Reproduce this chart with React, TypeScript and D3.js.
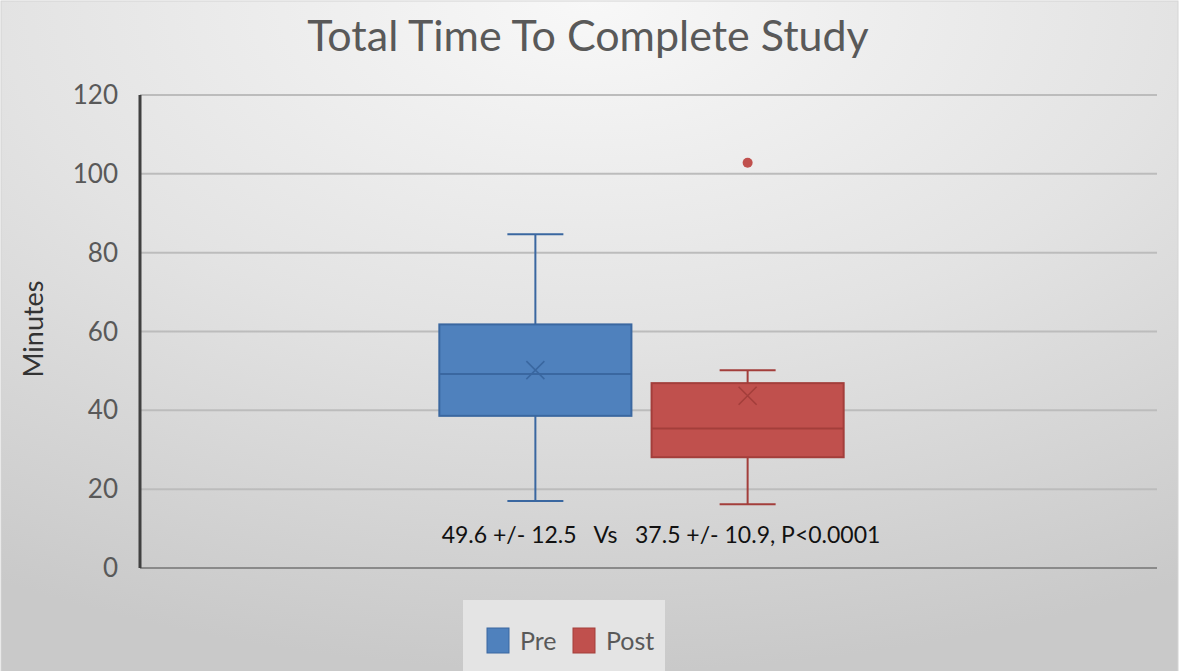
import React from "react";
import * as d3 from "d3";

const title = "Total Time To Complete Study";
const yLabel = "Minutes";
const yTicks = [0, 20, 40, 60, 80, 100, 120];
const category = ["Study"];
const seriesNames = ["Pre", "Post"];
const seriesColors = ["#4F81BD", "#C0504D"];
const seriesStroke = ["#3A67A0", "#A33E3B"];
const mins = [17, 16.2];
const q1s = [38.6, 28.1];
const medians = [49.2, 35.4];
const q3s = [61.8, 46.9];
const maxs = [84.7, 50.2];
const means = [50.2, 43.7];
const outliers: number[][] = [[], [102.8]];
const annotation = "49.6 +/- 12.5   Vs   37.5 +/- 10.9, P<0.0001";

const W = 1181;
const H = 671;
const FONT = "Lato, 'Open Sans', sans-serif";

export default function App() {
  const y = d3.scaleLinear().domain([0, 120]).range([568, 95]);
  const plotLeft = 140;
  const plotRight = 1157;
  const xCat = d3.scaleBand<string>().domain(category).range([128, 1155]).paddingOuter(0.77);
  const xSer = d3
    .scaleBand<string>()
    .domain(seriesNames)
    .range([0, xCat.bandwidth()])
    .paddingInner(0.095);
  const bw = xSer.bandwidth();
  const capW = 56;
  const xm = 9;

  return (
    <svg
      width={W}
      height={H}
      style={{ position: "fixed", left: 0, top: 0, display: "block" }}
    >
      <defs>
        <radialGradient id="bg" cx="50%" cy="0%" r="100%" fx="50%" fy="0%">
          <stop offset="0%" stopColor="#f8f8f8" />
          <stop offset="50%" stopColor="#e3e3e3" />
          <stop offset="100%" stopColor="#c9c9c9" />
        </radialGradient>
      </defs>
      <rect x={0} y={0} width={W} height={H} fill="#ffffff" />
      <rect x={1} y={1} width={1177} height={H} fill="url(#bg)" stroke="#d4d4d4" strokeWidth={1} />
      <text
        x={588}
        y={51}
        textAnchor="middle"
        fontFamily={FONT}
        fontSize={43}
        fill="#595959"
      >
        {title}
      </text>
      {yTicks.map((t) =>
        t === 0 ? null : (
          <line
            key={t}
            x1={plotLeft}
            x2={plotRight}
            y1={y(t)}
            y2={y(t)}
            stroke="#bcbcbc"
            strokeWidth={2}
          />
        )
      )}
      <line x1={plotLeft} x2={plotRight} y1={y(0)} y2={y(0)} stroke="#8a8a8a" strokeWidth={2} />
      <line x1={plotLeft} x2={plotLeft} y1={y(120)} y2={y(0)} stroke="#404040" strokeWidth={3} />
      {yTicks.map((t) => (
        <text
          key={t}
          x={118}
          y={y(t) + 9}
          textAnchor="end"
          fontFamily={FONT}
          fontSize={26}
          fill="#595959"
        >
          {t}
        </text>
      ))}
      <text
        transform={`translate(43,329) rotate(-90)`}
        textAnchor="middle"
        fontFamily={FONT}
        fontSize={27}
        fill="#333333"
      >
        {yLabel}
      </text>
      {seriesNames.map((s, i) => {
        const x0 = (xCat(category[0]) ?? 0) + (xSer(s) ?? 0);
        const cx = x0 + bw / 2;
        return (
          <g key={s}>
            <line x1={cx} x2={cx} y1={y(maxs[i])} y2={y(q3s[i])} stroke={seriesStroke[i]} strokeWidth={2} />
            <line x1={cx} x2={cx} y1={y(q1s[i])} y2={y(mins[i])} stroke={seriesStroke[i]} strokeWidth={2} />
            <line x1={cx - capW / 2} x2={cx + capW / 2} y1={y(maxs[i])} y2={y(maxs[i])} stroke={seriesStroke[i]} strokeWidth={2} />
            <line x1={cx - capW / 2} x2={cx + capW / 2} y1={y(mins[i])} y2={y(mins[i])} stroke={seriesStroke[i]} strokeWidth={2} />
            <rect
              x={x0}
              y={y(q3s[i])}
              width={bw}
              height={y(q1s[i]) - y(q3s[i])}
              fill={seriesColors[i]}
              stroke={seriesStroke[i]}
              strokeWidth={2}
            />
            <line x1={x0} x2={x0 + bw} y1={y(medians[i])} y2={y(medians[i])} stroke={seriesStroke[i]} strokeWidth={2} />
            <path
              d={`M${cx - xm},${y(means[i]) - xm}L${cx + xm},${y(means[i]) + xm}M${cx - xm},${y(means[i]) + xm}L${cx + xm},${y(means[i]) - xm}`}
              stroke={seriesStroke[i]}
              strokeWidth={1.5}
              fill="none"
            />
            {outliers[i].map((o, j) => (
              <circle key={j} cx={cx} cy={y(o)} r={5} fill={seriesColors[i]} />
            ))}
          </g>
        );
      })}
      <text
        x={661}
        y={543}
        textAnchor="middle"
        fontFamily={FONT}
        fontSize={23}
        fill="#111"
        style={{ whiteSpace: "pre" }}
      >
        {annotation}
      </text>
      <rect x={463} y={600} width={202} height={71} fill="#e4e4e4" />
      {seriesNames.map((s, i) => {
        const lx = [487, 573][i];
        return (
          <g key={s}>
            <rect x={lx} y={628} width={22} height={25} fill={seriesColors[i]} stroke={seriesStroke[i]} strokeWidth={1} />
            <text x={lx + 33} y={650} fontFamily={FONT} fontSize={25} fill="#595959">
              {s}
            </text>
          </g>
        );
      })}
    </svg>
  );
}
